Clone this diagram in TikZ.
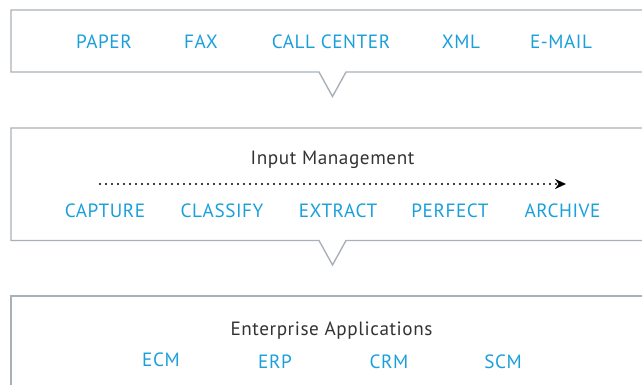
\documentclass[tikz,border=0pt]{standalone}
\usepackage{fontspec}
\setmainfont{PT Sans}[LetterSpace=3]
\usetikzlibrary{arrows.meta}
\definecolor{framegray}{HTML}{A9B0B7}
\definecolor{itemblue}{HTML}{1A9FDB}
\definecolor{titlegray}{HTML}{333333}

\begin{document}
\begin{tikzpicture}[x=1pt,y=-1pt]
  \tikzset{stageframe/.style={draw=framegray,line width=1.4pt,line join=miter}}
  \tikzset{itemlabel/.style={font=\fontsize{19.2}{21}\selectfont,text=itemblue,inner sep=0pt,anchor=base}}
  \tikzset{stagetitle/.style={font=\fontsize{19.2}{21}\selectfont,text=titlegray,inner sep=0pt,anchor=base}}
  \tikzset{flowarrow/.style={draw=black,line width=2.2pt,line cap=round,dash pattern=on 0pt off 6pt,-{Stealth[length=11pt,width=10pt]}}}

  \useasboundingbox (0,0) rectangle (642,385);
  \clip (0,0) rectangle (642,385);

  % frames run on past the right edge
  \draw[stageframe] (660,10) -- (11,10) -- (11,72) -- (319,72) -- (332.5,96.5) -- (346,72) -- (660,72);
  \draw[stageframe] (660,128) -- (11,128) -- (11,240.5) -- (319,240.5) -- (332.5,265) -- (346,240.5) -- (660,240.5);
  \draw[stageframe] (660,296) -- (11,296) -- (11,400);

  % sources
  \node[itemlabel] (paper) at (104,48.5) {PAPER};
  \node[itemlabel] (fax) at (201,48.5) {FAX};
  \node[itemlabel] (callcenter) at (331,48.5) {CALL CENTER};
  \node[itemlabel] (xml) at (461,48.5) {XML};
  \node[itemlabel] (email) at (561,48.5) {E-MAIL};

  % input management
  \node[stagetitle] (input) at (332.5,164.5) {Input Management};
  \coordinate (flowstart) at (100,184);
  \coordinate (flowend) at (566,184);
  \draw[flowarrow] (flowstart) -- (flowend);

  \node[itemlabel] (capture) at (105,217.5) {CAPTURE};
  \node[itemlabel] (classify) at (222,217.5) {CLASSIFY};
  \node[itemlabel] (extract) at (338,217.5) {EXTRACT};
  \node[itemlabel] (perfect) at (450,217.5) {PERFECT};
  \node[itemlabel] (archive) at (562.5,217.5) {ARCHIVE};

  % enterprise applications
  \node[stagetitle] (enterprise) at (331.5,335.5) {Enterprise Applications};
  \node[itemlabel] (ecm) at (161,366) {ECM};
  \node[itemlabel] (erp) at (275,368) {ERP};
  \node[itemlabel] (crm) at (389,368) {CRM};
  \node[itemlabel] (scm) at (503,368) {SCM};
\end{tikzpicture}
\end{document}
